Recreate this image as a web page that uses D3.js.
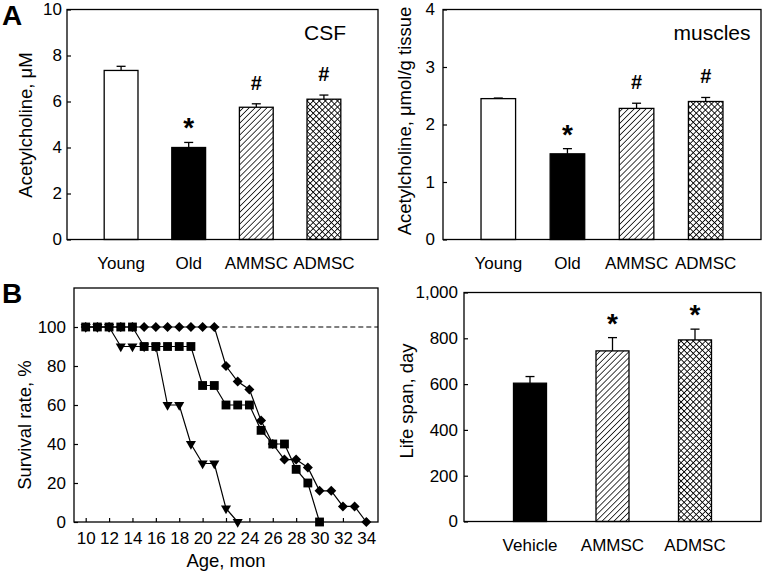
<!DOCTYPE html>
<html>
<head>
<meta charset="utf-8">
<script src="https://cdn.jsdelivr.net/npm/d3@7"></script>
<style>
  body { margin: 0; background: #fff; }
  text { font-family: "Liberation Sans", Arial, sans-serif; fill: #000; }
</style>
</head>
<body>
<script>
// ---- data ----
var groupsA = ["Young", "Old", "AMMSC", "ADMSC"];
var csfMean = [7.35, 4.0, 5.75, 6.1];
var csfErr = [0.18, 0.22, 0.15, 0.18];
var csfSig = ["", "*", "#", "#"];
var musMean = [2.45, 1.49, 2.28, 2.40];
var musErr = [0.01, 0.09, 0.09, 0.07];
var musSig = ["", "*", "#", "#"];
var fillsA = ["white", "black", "url(#hatch)", "url(#cross)"];

var groupsB = ["Vehicle", "AMMSC", "ADMSC"];
var lifeMean = [604, 745, 793];
var lifeErr = [29, 58, 47];
var lifeSig = ["", "*", "*"];
var fillsB = ["black", "url(#hatch)", "url(#cross)"];

var vehAges = [10, 11, 12, 13, 14, 15, 16, 17, 18, 19, 20, 21, 22, 23];
var vehSurv = [100, 100, 100, 90, 90, 90, 90, 60, 60, 40, 30, 30, 7, 0];
var amAges = [10, 11, 12, 13, 14, 15, 16, 17, 18, 19, 20, 21, 22, 23, 24, 25, 26, 27, 28, 29, 30];
var amSurv = [100, 100, 100, 100, 100, 90, 90, 90, 90, 90, 70, 70, 60, 60, 60, 47, 40, 40, 27, 20, 0];
var adAges = [10, 11, 12, 13, 14, 15, 16, 17, 18, 19, 20, 21, 22, 23, 24, 25, 26, 27, 28, 29, 30, 31, 32, 33, 34];
var adSurv = [100, 100, 100, 100, 100, 100, 100, 100, 100, 100, 100, 100, 80, 72, 68, 52, 40, 32, 32, 28, 16, 16, 8, 8, 0];
var ageTicks = [10, 12, 14, 16, 18, 20, 22, 24, 26, 28, 30, 32, 34];

var svg = d3.select("body").append("svg")
    .attr("width", 765)
    .attr("height", 573);

// ---- fill patterns ----
var defs = svg.append("defs");
defs.append("pattern")
    .attr("id", "hatch")
    .attr("patternUnits", "userSpaceOnUse")
    .attr("width", 4.2).attr("height", 4.2)
    .attr("patternTransform", "rotate(45)")
    .call(function(p) {
        p.append("rect").attr("width", 4.2).attr("height", 4.2).attr("fill", "white");
        p.append("line").attr("x1", 0).attr("y1", 0).attr("x2", 0).attr("y2", 4.2)
            .attr("stroke", "black").attr("stroke-width", 1.5);
    });
defs.append("pattern")
    .attr("id", "cross")
    .attr("patternUnits", "userSpaceOnUse")
    .attr("width", 4.3).attr("height", 4.3)
    .attr("patternTransform", "rotate(45)")
    .call(function(p) {
        p.append("rect").attr("width", 4.3).attr("height", 4.3).attr("fill", "white");
        p.append("line").attr("x1", 0).attr("y1", 0).attr("x2", 0).attr("y2", 4.3)
            .attr("stroke", "black").attr("stroke-width", 1.7);
        p.append("line").attr("x1", 0).attr("y1", 0).attr("x2", 4.3).attr("y2", 0)
            .attr("stroke", "black").attr("stroke-width", 1.7);
    });

function frame(x0, x1, y0, y1) {
    svg.append("rect")
        .attr("x", x0).attr("y", y0)
        .attr("width", x1 - x0).attr("height", y1 - y0)
        .attr("fill", "none").attr("stroke", "black").attr("stroke-width", 1.3);
}

function yAxis(y, x0, ticks, fmt, pad) {
    var g = svg.append("g")
        .attr("transform", "translate(" + x0 + ",0)")
        .call(d3.axisLeft(y).tickValues(ticks).tickFormat(fmt)
            .tickSizeInner(-4).tickSizeOuter(0).tickPadding(pad));
    g.select(".domain").remove();
    g.selectAll("line").attr("stroke-width", 1.2);
    g.selectAll("text").style("font-size", "17px").style("font-family", null);
    return g;
}

function yTitle(label, x, y) {
    svg.append("text")
        .attr("transform", "translate(" + x + "," + y + ") rotate(-90)")
        .attr("text-anchor", "middle")
        .style("font-size", "18.5px")
        .text(label);
}

function barPanel(opt) {
    var x = d3.scaleBand()
        .domain(opt.cats)
        .range([opt.x0, opt.x1])
        .paddingInner(opt.pin)
        .paddingOuter(opt.pout);
    var y = d3.scaleLinear().domain(opt.domain).range([opt.y1, opt.y0]);
    var rows = opt.cats.map(function(c, i) {
        return {cat: c, mean: opt.mean[i], err: opt.err[i], sig: opt.sig[i], fill: opt.fills[i]};
    });

    var g = svg.append("g");
    var err = g.selectAll(".err").data(rows).enter().append("g")
        .attr("stroke", "black").attr("stroke-width", 1.3);
    err.append("line")
        .attr("x1", function(d) { return x(d.cat) + x.bandwidth() / 2; })
        .attr("x2", function(d) { return x(d.cat) + x.bandwidth() / 2; })
        .attr("y1", function(d) { return y(d.mean); })
        .attr("y2", function(d) { return y(d.mean + d.err); });
    err.append("line")
        .attr("x1", function(d) { return x(d.cat) + x.bandwidth() / 2 - 4.5; })
        .attr("x2", function(d) { return x(d.cat) + x.bandwidth() / 2 + 4.5; })
        .attr("y1", function(d) { return y(d.mean + d.err); })
        .attr("y2", function(d) { return y(d.mean + d.err); });

    g.selectAll(".bar").data(rows).enter().append("rect")
        .attr("x", function(d) { return x(d.cat); })
        .attr("width", x.bandwidth())
        .attr("y", function(d) { return y(d.mean); })
        .attr("height", function(d) { return y(0) - y(d.mean); })
        .attr("fill", function(d) { return d.fill; })
        .attr("stroke", "black").attr("stroke-width", 1.3);

    g.selectAll(".sig").data(rows).enter().append("text")
        .attr("x", function(d) { return x(d.cat) + x.bandwidth() / 2; })
        .attr("y", function(d) {
            var top = y(d.mean + d.err) - 21;
            return d.sig == "*" ? top + 16 : top + 7;
        })
        .attr("text-anchor", "middle")
        .style("font-weight", "bold")
        .style("font-size", function(d) { return d.sig == "*" ? "28px" : "20px"; })
        .text(function(d) { return d.sig; });

    frame(opt.x0, opt.x1, opt.y0, opt.y1);
    yAxis(y, opt.x0, opt.ticks, opt.fmt, opt.tpad);

    var xa = svg.append("g")
        .attr("transform", "translate(0," + opt.y1 + ")")
        .call(d3.axisBottom(x).tickSize(0).tickPadding(opt.xpad));
    xa.select(".domain").remove();
    xa.selectAll("text").style("font-size", "17px").style("font-family", null);

    yTitle(opt.title, opt.titleX, opt.titleY);
}

// ---- panel A, CSF ----
barPanel({
    cats: groupsA, mean: csfMean, err: csfErr, sig: csfSig, fills: fillsA,
    x0: 67, x1: 378, y0: 9.5, y1: 239.5, pin: 0.5, pout: 0.55,
    domain: [0, 10], ticks: [0, 2, 4, 6, 8, 10], fmt: d3.format("d"), tpad: 5,
    xpad: 17, title: "Acetylcholine, \u03bcM", titleX: 32, titleY: 125
});
svg.append("text").attr("x", 325).attr("y", 40)
    .attr("text-anchor", "middle").style("font-size", "21px").text("CSF");

// ---- panel A, muscles ----
barPanel({
    cats: groupsA, mean: musMean, err: musErr, sig: musSig, fills: fillsA,
    x0: 443, x1: 761, y0: 9.5, y1: 239.5, pin: 0.5, pout: 0.55,
    domain: [0, 4], ticks: [0, 1, 2, 3, 4], fmt: d3.format("d"), tpad: 8,
    xpad: 17, title: "Acetylcholine, \u03bcmol/g tissue", titleX: 411, titleY: 121
});
svg.append("text").attr("x", 712).attr("y", 40)
    .attr("text-anchor", "middle").style("font-size", "21px").text("muscles");

// ---- panel B, life span ----
barPanel({
    cats: groupsB, mean: lifeMean, err: lifeErr, sig: lifeSig, fills: fillsB,
    x0: 464, x1: 761, y0: 292.5, y1: 521.5, pin: 0.6, pout: 0.6,
    domain: [0, 1000], ticks: [0, 200, 400, 600, 800, 1000], fmt: d3.format(","), tpad: 6,
    xpad: 17, title: "Life span, day", titleX: 413, titleY: 401
});

// ---- panel B, survival ----
var sx = d3.scaleLinear().domain([9, 35]).range([74, 378]);
var sy = d3.scaleLinear().domain([0, 120]).range([522, 288]);

frame(74, 378, 288, 522);
yAxis(sy, 74, [0, 20, 40, 60, 80, 100], d3.format("d"), 8);
var ax = svg.append("g")
    .attr("transform", "translate(0,522)")
    .call(d3.axisBottom(sx).tickValues(ageTicks).tickSizeInner(-4).tickSizeOuter(0).tickPadding(10));
ax.select(".domain").remove();
ax.selectAll("line").attr("stroke-width", 1.2);
ax.selectAll("text").style("font-size", "17px").style("font-family", null);

// 100% reference line from the last full-survival point
svg.append("line")
    .attr("x1", sx(adAges[11])).attr("x2", sx(35))
    .attr("y1", sy(100)).attr("y2", sy(100))
    .attr("stroke", "black").attr("stroke-width", 1.1).attr("stroke-dasharray", "5,3");

var line = d3.line()
    .x(function(d) { return sx(d[0]); })
    .y(function(d) { return sy(d[1]); });

var series = [
    {ages: vehAges, surv: vehSurv, sym: d3.symbolTriangle, size: 44, rot: 180},
    {ages: adAges, surv: adSurv, sym: d3.symbolSquare, size: 50, rot: 45},
    {ages: amAges, surv: amSurv, sym: d3.symbolSquare, size: 78, rot: 0}
];

series.forEach(function(s) {
    var pts = s.ages.map(function(a, i) { return [a, s.surv[i]]; });
    svg.append("path")
        .attr("d", line(pts))
        .attr("fill", "none").attr("stroke", "black").attr("stroke-width", 1.2);
    svg.append("g").selectAll("path")
        .data(pts)
        .enter()
            .append("path")
            .attr("d", d3.symbol().type(s.sym).size(s.size))
            .attr("transform", function(d) {
                return "translate(" + sx(d[0]) + "," + sy(d[1]) + ") rotate(" + s.rot + ")";
            })
            .attr("fill", "black");
});

yTitle("Survival rate, %", 31, 425);
svg.append("text").attr("x", 226).attr("y", 567)
    .attr("text-anchor", "middle").style("font-size", "18.5px").text("Age, mon");

// ---- panel letters ----
svg.append("text").attr("x", 2).attr("y", 25)
    .style("font-size", "28px").style("font-weight", "bold").text("A");
svg.append("text").attr("x", 2).attr("y", 303)
    .style("font-size", "28px").style("font-weight", "bold").text("B");
</script>
</body>
</html>
